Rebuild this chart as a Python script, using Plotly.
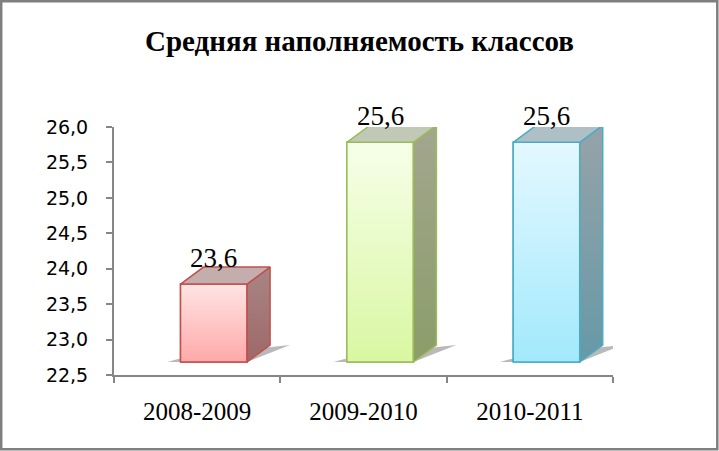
import plotly.graph_objects as go

# ---- data ----
categories = ["2008-2009", "2009-2010", "2010-2011"]
values = [23.6, 25.6, 25.6]
title_text = "Средняя наполняемость классов"
y_min, y_max, y_step = 22.5, 26.0, 0.5

# ---- styling ----
front_colors = ["#FFC6C6", "#EAF9C8", "#C6F0FD"]
front_grad = [("#FFE4E4", "#FFA9A9"), ("#F6FFE9", "#D9F7A2"), ("#E4F8FF", "#A2E9FC")]
edge_colors = ["#C0504D", "#9BBB59", "#4BACC6"]
top_colors = ["#C4ADAD", "#C1C8B6", "#AEBFC6"]
side_grad = [("#A88585", "#9E6868"), ("#A3A68F", "#8B9D69"), ("#96A3A8", "#6699A7")]

W, H = 719, 451
L, R, T, B = 114, 106, 127, 76
plot_w, plot_h = W - L - R, H - T - B
unit_px = plot_h / (y_max - y_min)
cat_px = plot_w / len(categories)

lift = 13 / unit_px      # front face lift (3D floor)
dy = 17 / unit_px        # depth vertical
dx = 23 / cat_px         # depth horizontal
off, bw = -0.1, 0.4      # front face offset/width in category units

xs = list(range(len(categories)))

fig = go.Figure()

# soft floor shadows
for i, v in enumerate(values):
    xl = xs[i] + off
    xr = xs[i] + off + bw
    b = y_min + lift
    fig.add_trace(go.Scatter(
        x=[xl - 0.08, xr, xr + dx + 0.12, xr + dx + 0.02, xl - 0.02],
        y=[b, b, b + dy * 1.0, b + dy * 0.9, b + 0.04],
        fill="toself", mode="lines", line=dict(width=0),
        fillcolor="rgba(80,80,80,0.4)", hoverinfo="skip", showlegend=False))

# front faces
fig.add_trace(go.Bar(
    x=xs, y=[v - y_min for v in values], base=[y_min + lift] * len(values),
    width=bw, offset=off,
    marker=dict(color=front_colors, line=dict(color=edge_colors, width=1.5)),
    showlegend=False, hoverinfo="skip"))

# gradient overlay on front faces, side and top faces
for i, v in enumerate(values):
    xl = xs[i] + off
    xr = xs[i] + off + bw
    b = y_min + lift
    t = v + lift
    fig.add_trace(go.Scatter(
        x=[xl, xr, xr, xl, xl], y=[b, b, t, t, b],
        fill="toself", mode="lines", line=dict(color=edge_colors[i], width=1.5),
        fillgradient=dict(type="vertical",
                          colorscale=[[0, front_grad[i][1]], [1, front_grad[i][0]]]),
        hoverinfo="skip", showlegend=False))
    # side
    fig.add_trace(go.Scatter(
        x=[xr, xr + dx, xr + dx, xr, xr], y=[b, b + dy, t + dy, t, b],
        fill="toself", mode="lines", line=dict(color=edge_colors[i], width=1.5),
        fillgradient=dict(type="vertical",
                          colorscale=[[0, side_grad[i][1]], [1, side_grad[i][0]]]),
        hoverinfo="skip", showlegend=False))
    # top
    fig.add_trace(go.Scatter(
        x=[xl, xr, xr + dx, xl + dx, xl], y=[t, t, t + dy, t + dy, t],
        fill="toself", mode="lines", line=dict(color=edge_colors[i], width=1.5),
        fillcolor=top_colors[i], hoverinfo="skip", showlegend=False))

# data labels (anchored at front-top edge, shifted up by the depth)
for i, v in enumerate(values):
    fig.add_annotation(
        x=xs[i] + off + bw / 2, y=v + lift,
        text=f"{v:.1f}".replace(".", ","), showarrow=False,
        yanchor="bottom", yshift=17 - 8,
        font=dict(family="Liberation Serif", size=27, color="black"))

# outer border
def px_x(p):
    return (p - L) / plot_w

def px_y(p):
    return (H - B - p) / plot_h

fig.add_shape(type="rect", xref="paper", yref="paper",
              x0=px_x(1.2), x1=px_x(717.3), y0=px_y(1.2), y1=px_y(449.3),
              line=dict(color="#7F7F7F", width=2.5), fillcolor="rgba(0,0,0,0)",
              layer="above")

fig.update_layout(
    width=W, height=H,
    margin=dict(l=L, r=R, t=T, b=B, pad=0),
    paper_bgcolor="white", plot_bgcolor="white",
    separators=", ",
    showlegend=False,
    title=dict(text=title_text, x=0.5, xanchor="center", xref="container",
               y=1 - 41 / H, yanchor="middle", yref="container",
               font=dict(family="Liberation Serif", size=29, color="black",
                         weight="bold")),
    xaxis=dict(range=[-0.5, len(categories) - 0.5],
               tickmode="array", tickvals=xs, ticktext=categories,
               ticks="", showgrid=False, zeroline=False,
               showline=True, linecolor="#868686", linewidth=2,
               ticklabelstandoff=13,
               tickfont=dict(family="Liberation Serif", size=25, color="black"),
               minor=dict(tickmode="array",
                          tickvals=[k - 0.5 for k in range(len(categories) + 1)],
                          ticks="outside", ticklen=6, tickwidth=2,
                          tickcolor="#868686", showgrid=False),
               fixedrange=True),
    yaxis=dict(range=[y_min, y_max], tick0=y_min, dtick=y_step,
               tickformat=".1f", ticks="outside", ticklen=6, tickwidth=2,
               tickcolor="#868686", showline=True, linecolor="#868686",
               linewidth=2, showgrid=False, zeroline=False,
               ticklabelstandoff=14,
               tickfont=dict(family="DejaVu Sans", size=19, color="black"),
               fixedrange=True),
)

fig.write_html("out.html", config={"displayModeBar": False},
               post_script="document.body.style.margin='0';document.body.style.overflow='hidden';")
